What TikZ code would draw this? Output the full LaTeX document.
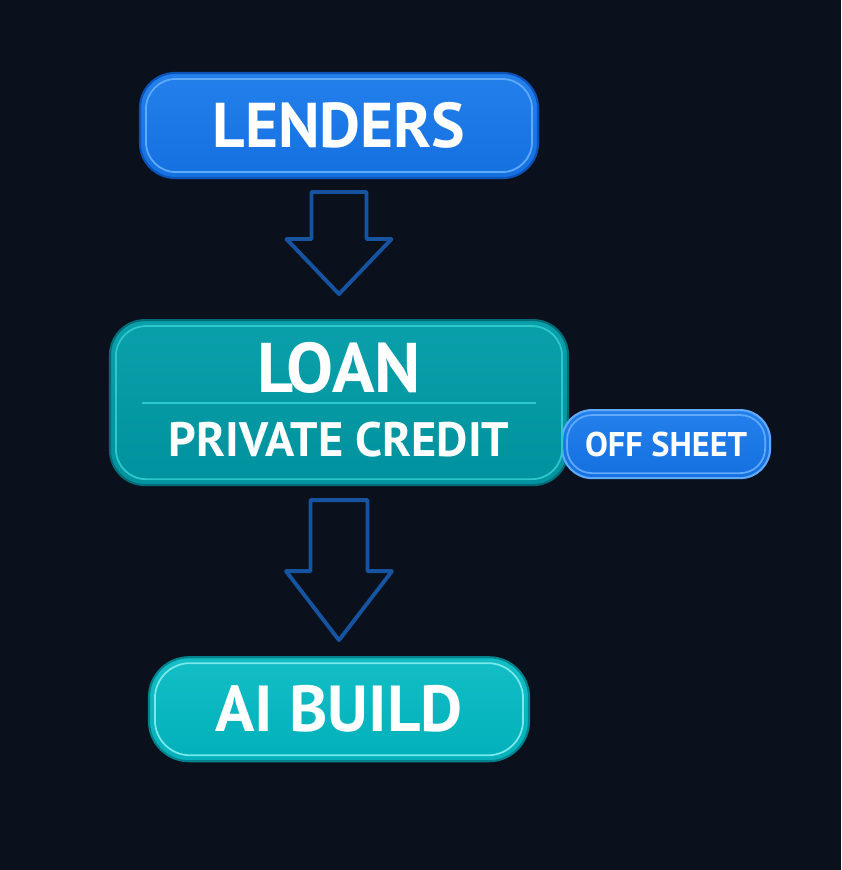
\documentclass[tikz,border=0pt]{standalone}
\usepackage{fontspec}
\setsansfont{PT Sans}
\usepackage{tikz}
\usetikzlibrary{positioning}
\definecolor{bg}{RGB}{11,17,28}
\definecolor{lendfill}{RGB}{21,112,224}
\definecolor{lendtop}{RGB}{35,128,235}
\definecolor{lendedge}{RGB}{12,82,185}
\definecolor{lendhi}{RGB}{95,170,255}
\definecolor{loanfill}{RGB}{0,146,158}
\definecolor{loantop}{RGB}{10,160,170}
\definecolor{loanedge}{RGB}{0,108,120}
\definecolor{loanhi}{RGB}{45,200,205}
\definecolor{aifill}{RGB}{0,176,186}
\definecolor{aitop}{RGB}{20,190,198}
\definecolor{aiedge}{RGB}{0,130,140}
\definecolor{aihi}{RGB}{120,232,235}
\definecolor{arrowblue}{RGB}{22,84,162}
\tikzset{
  lendbox/.style={rectangle, rounded corners=0.7cm, minimum width=7.96cm, minimum height=2.1cm, top color=lendtop, bottom color=lendfill, draw=lendedge, line width=1.2pt, text=white, font=\sffamily\bfseries\fontsize{36}{40}\selectfont},
  loanbox/.style={rectangle, rounded corners=0.7cm, minimum width=9.16cm, minimum height=3.3cm, top color=loantop, bottom color=loanfill, draw=loanedge, line width=1.2pt},
  aibox/.style={rectangle, rounded corners=0.8cm, minimum width=7.6cm, minimum height=2.08cm, top color=aitop, bottom color=aifill, draw=aiedge, line width=1.2pt, text=white, font=\sffamily\bfseries\fontsize{37}{40}\selectfont},
  sidebox/.style={rectangle, rounded corners=0.6cm, minimum width=4.16cm, minimum height=1.36cm, top color=lendtop, bottom color=lendfill, draw=lendhi, line width=1.2pt, text=white, font=\sffamily\bfseries\fontsize{19.5}{24}\selectfont},
  bigtext/.style={text=white, font=\sffamily\bfseries\fontsize{40}{44}\selectfont},
  midtext/.style={text=white, font=\sffamily\bfseries\fontsize{27.5}{32}\selectfont},
  glint/.style={line width=1pt, rounded corners=0.6cm},
  hollow/.style={draw=arrowblue, line width=2.2pt, line join=round}
}
\begin{document}
\begin{tikzpicture}
        \fill [bg] (0,0) rectangle (16.82,-17.4);
        \node (lenders) [lendbox] at (6.78,-2.51) {LENDERS};
        \node (loan) [loanbox, below=2.8cm of lenders] {};
        \node (offsheet) [sidebox, anchor=west] at ([xshift=-0.16cm,yshift=-0.83cm]loan.east) {OFF SHEET};
        \node (aibuild) [aibox, below=3.4cm of loan] {AI BUILD};
        \node (loanword) [bigtext] at ([yshift=0.69cm]loan.center) {LOAN};
        \node (credit) [midtext] at ([yshift=-0.73cm]loan.center) {PRIVATE CREDIT};
        % inner highlights
        \draw [glint, draw=lendhi] ([shift={(0.14,-0.14)}]lenders.north west) rectangle ([shift={(-0.14,0.14)}]lenders.south east);
        \draw [glint, draw=loanhi] ([shift={(0.14,-0.14)}]loan.north west) rectangle ([shift={(-0.14,0.14)}]loan.south east);
        \draw [glint, draw=aihi, rounded corners=0.7cm] ([shift={(0.14,-0.14)}]aibuild.north west) rectangle ([shift={(-0.14,0.14)}]aibuild.south east);
        \draw [glint, draw=lendhi, rounded corners=0.5cm] ([shift={(0.12,-0.12)}]offsheet.north west) rectangle ([shift={(-0.12,0.12)}]offsheet.south east);
        \draw [loanhi, line width=1.2pt] ([xshift=0.66cm]loan.west) -- ([xshift=-0.66cm]loan.east);
        % block arrows
        \draw [hollow] ([xshift=-0.55cm,yshift=-0.26cm]lenders.south) -- ++(0,-0.94) -- ++(-0.5,0) -- ([yshift=0.5cm]loan.north) -- ++(1.05,1.1) -- ++(-0.5,0) -- ++(0,0.94) -- cycle;
        \draw [hollow] ([xshift=-0.57cm,yshift=-0.28cm]loan.south) -- ++(0,-1.42) -- ++(-0.49,0) -- ([yshift=0.32cm]aibuild.north) -- ++(1.06,1.38) -- ++(-0.49,0) -- ++(0,1.42) -- cycle;
\end{tikzpicture}
\end{document}
